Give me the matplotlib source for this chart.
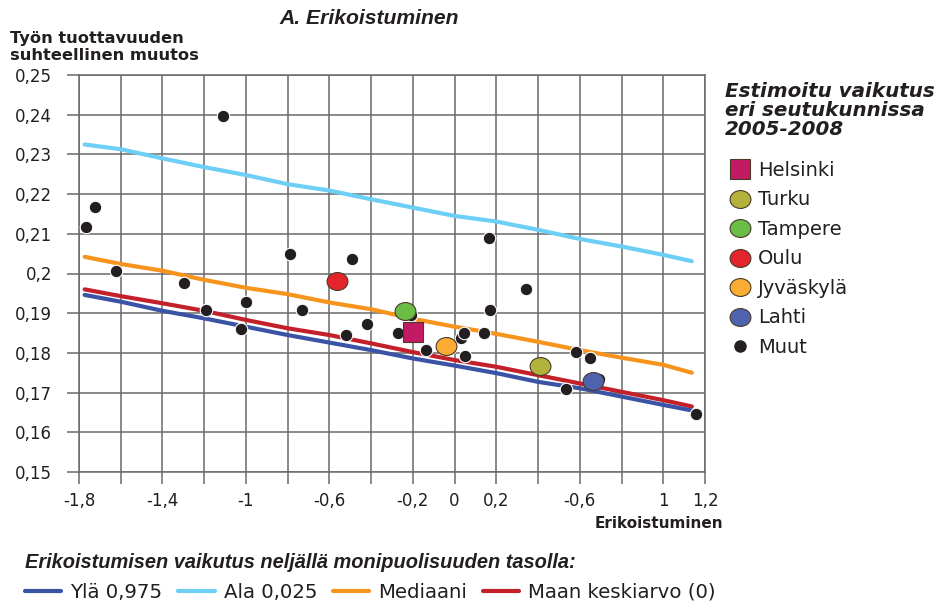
import matplotlib
matplotlib.use('Agg')
import matplotlib.pyplot as plt
from matplotlib.lines import Line2D
from matplotlib.path import Path
from matplotlib.transforms import Affine2D

# quantile curves
curve_x = [-1.773, -1.6, -1.4, -1.2, -1.0, -0.8, -0.6, -0.4, -0.2, 0.0,
           0.2, 0.4, 0.6, 0.8, 1.0, 1.137]
ala_y = [0.2325, 0.2313, 0.2290, 0.2268, 0.2248, 0.2225, 0.2209, 0.2187,
         0.2166, 0.2145, 0.2131, 0.2110, 0.2087, 0.2068, 0.2047, 0.2031]
median_y = [0.2042, 0.2024, 0.2007, 0.1984, 0.1964, 0.1948, 0.1927, 0.1910,
            0.1886, 0.1866, 0.1848, 0.1828, 0.1807, 0.1788, 0.1770, 0.1750]
mean_y = [0.1960, 0.1943, 0.1925, 0.1906, 0.1883, 0.1862, 0.1845, 0.1824,
          0.1802, 0.1782, 0.1765, 0.1744, 0.1723, 0.1702, 0.1681, 0.1665]
yla_y = [0.1946, 0.1929, 0.1906, 0.1887, 0.1866, 0.1845, 0.1826, 0.1807,
         0.1786, 0.1768, 0.1749, 0.1727, 0.1711, 0.1690, 0.1669, 0.1655]

# other regions
muut_x = [-1.111, -1.721, -1.766, -1.622, -1.295, -1.193, -1.001, -1.022,
          -0.791, -0.732, -0.493, -0.520, -0.421, -0.270, -0.207, -0.136,
          -0.020, 0.029, 0.045, 0.048, 0.140, 0.167, 0.172, 0.344,
          0.584, 0.648, 0.690, 0.536, 1.156]
muut_y = [0.2397, 0.2167, 0.2118, 0.2006, 0.1975, 0.1908, 0.1929, 0.1859,
          0.2048, 0.1908, 0.2037, 0.1845, 0.1873, 0.1849, 0.1895, 0.1807,
          0.1812, 0.1838, 0.1851, 0.1793, 0.1849, 0.2089, 0.1908, 0.1960,
          0.1803, 0.1786, 0.1733, 0.1709, 0.1646]

# named regions
cities = ['Helsinki', 'Turku', 'Tampere', 'Oulu', 'Jyväskylä', 'Lahti']
city_x = [-0.200, 0.411, -0.238, -0.565, -0.043, 0.663]
city_y = [0.1853, 0.1767, 0.1906, 0.1980, 0.1818, 0.1729]
city_colors = ['#c21b64', '#b3b23a', '#6abd45', '#e3242b', '#fbad33', '#4f62ad']

x_ticks = [-1.8 + 0.2 * i for i in range(16)]
x_labels = ['-1,8', '', '-1,4', '', '-1', '', '-0,6', '', '-0,2', '0', '0,2',
            '', '-0,6', '', '1', '1,2']
y_ticks = [0.15 + 0.01 * i for i in range(11)]
y_labels = ['0,15', '0,16', '0,17', '0,18', '0,19', '0,2', '0,21', '0,22',
            '0,23', '0,24', '0,25']

grid_col = '#6a6a6a'
txt_col = '#231f20'

fig = plt.figure(figsize=(9.44, 6.06), dpi=100)
ax = fig.add_axes([79 / 944, 1 - 472 / 606, 626 / 944, 397 / 606])

ax.set_xlim(-1.8, 1.2)
ax.set_ylim(0.15, 0.25)
ax.set_xticks(x_ticks)
ax.set_xticklabels(x_labels)
ax.set_yticks(y_ticks)
ax.set_yticklabels(y_labels)
ax.tick_params(axis='both', direction='out', length=8.5, width=1.1,
               color=grid_col, labelsize=12, labelcolor=txt_col)
ax.tick_params(axis='y', pad=11)
ax.tick_params(axis='x', pad=6)
ax.grid(True, color=grid_col, linewidth=1.1)
ax.set_axisbelow(True)
for sp in ax.spines.values():
    sp.set_color(grid_col)
    sp.set_linewidth(1.1)

ax.plot(curve_x, ala_y, color='#6dcff6', lw=3, solid_capstyle='round', zorder=2)
ax.plot(curve_x, median_y, color='#f7941d', lw=3, solid_capstyle='round', zorder=2)
ax.plot(curve_x, mean_y, color='#c4202a', lw=3, solid_capstyle='round', zorder=2)
ax.plot(curve_x, yla_y, color='#3a53a4', lw=3, solid_capstyle='round', zorder=2)

ax.plot(muut_x, muut_y, 'o', color='#231f20', ms=9, mec='white', mew=0.8,
        zorder=3, label='Muut')

ellipse = Path.unit_circle().transformed(Affine2D().scale(1.0, 0.86))
handles = []
for name, cx, cy, col in zip(cities, city_x, city_y, city_colors):
    if name == 'Helsinki':
        h, = ax.plot(cx, cy, 's', color=col, ms=14, mec='#4a3b2a', mew=0.8,
                     zorder=4, label=name)
    else:
        h, = ax.plot(cx, cy, ls='none', marker=ellipse, color=col, ms=15,
                     mec='#4a3b2a', mew=0.8, zorder=4, label=name)
    handles.append(h)
handles.append(Line2D([], [], ls='none', marker='o', color='#231f20', ms=8))

# titles and axis texts
fig.text(369 / 944, 1 - 18 / 606, 'A. Erikoistuminen', family='Liberation Sans',
         fontsize=15.2, fontweight='bold', style='italic', ha='center',
         va='center', color=txt_col)
fig.text(10 / 944, 1 - 47 / 606, 'Työn tuottavuuden\nsuhteellinen muutos',
         fontsize=11.7, fontweight='bold', ha='left', va='center',
         color=txt_col, linespacing=1.2)
fig.text(723 / 944, 1 - 523 / 606, 'Erikoistuminen', fontsize=11,
         fontweight='bold', ha='right', va='center', color=txt_col)

# right legend
fig.text(725 / 944, 1 - 111 / 606, 'Estimoitu vaikutus\neri seutukunnissa\n2005-2008',
         fontsize=14.3, fontweight='bold', style='italic', ha='left',
         va='center', color=txt_col, linespacing=1.0)
leg1 = fig.legend(handles=handles, labels=cities + ['Muut'], loc='upper left',
                  bbox_to_anchor=(730 / 944, 1 - 161 / 606), frameon=False,
                  fontsize=14, handlelength=1.0, handletextpad=0.43,
                  borderpad=0, borderaxespad=0, labelspacing=0.54)
for t in leg1.get_texts():
    t.set_color(txt_col)

# bottom legend
fig.text(25 / 944, 1 - 563 / 606,
         'Erikoistumisen vaikutus neljällä monipuolisuuden tasolla:',
         family='Liberation Sans', fontsize=14.4, fontweight='bold',
         style='italic', ha='left', va='center', color=txt_col)
line_handles = [Line2D([], [], color='#3a53a4', lw=3, solid_capstyle='round'),
                Line2D([], [], color='#6dcff6', lw=3, solid_capstyle='round'),
                Line2D([], [], color='#f7941d', lw=3, solid_capstyle='round'),
                Line2D([], [], color='#c4202a', lw=3, solid_capstyle='round')]
line_labels = ['Ylä 0,975', 'Ala 0,025', 'Mediaani', 'Maan keskiarvo (0)']
leg2 = fig.legend(handles=line_handles, labels=line_labels, loc='center left',
                  bbox_to_anchor=(25 / 944, 1 - 592 / 606), frameon=False,
                  ncol=4, fontsize=14.2, handlelength=1.85, handletextpad=0.45,
                  columnspacing=0.8, borderpad=0, borderaxespad=0)
for t in leg2.get_texts():
    t.set_color(txt_col)

fig.savefig('out.png', dpi=100)
